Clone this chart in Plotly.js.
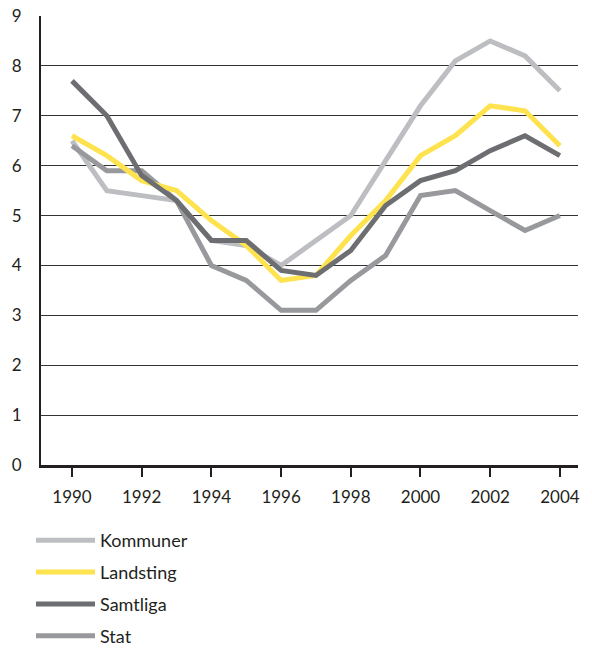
<!DOCTYPE html>
<html>
<head>
<meta charset="utf-8">
<script src="https://cdn.plot.ly/plotly-3.0.1.min.js"></script>
<style>html,body{margin:0;padding:0;background:#fff;}#chart{width:592px;height:648px;}</style>
</head>
<body>
<div id="chart"></div>
<script>
const years = [1990,1991,1992,1993,1994,1995,1996,1997,1998,1999,2000,2001,2002,2003,2004];
const kommuner = [6.5,5.5,5.4,5.3,4.5,4.4,4.0,4.5,5.0,6.1,7.2,8.1,8.5,8.2,7.5];
const landsting = [6.6,6.2,5.7,5.5,4.9,4.4,3.7,3.8,4.6,5.3,6.2,6.6,7.2,7.1,6.4];
const samtliga = [7.7,7.0,5.8,5.3,4.5,4.5,3.9,3.8,4.3,5.2,5.7,5.9,6.3,6.6,6.2];
const stat = [6.4,5.9,5.9,5.3,4.0,3.7,3.1,3.1,3.7,4.2,5.4,5.5,5.1,4.7,5.0];
const xTicks = [1990,1992,1994,1996,1998,2000,2002,2004];
const yTicks = [0,1,2,3,4,5,6,7,8,9];

const series = [
  {name:'Kommuner', y:kommuner, color:'#bdbec1'},
  {name:'Landsting', y:landsting, color:'#fee24e'},
  {name:'Samtliga', y:samtliga, color:'#6d6e71'},
  {name:'Stat', y:stat, color:'#98999c'}
];
const drawOrder = ['Kommuner','Stat','Landsting','Samtliga'];
const traces = drawOrder.map(n => {
  const s = series.find(d => d.name === n);
  return {x: years, y: s.y, name: s.name, type:'scatter', mode:'lines',
    legendgroup: s.name,
    line:{color:s.color, width:5}, legendrank: series.indexOf(s)+1};
});

const tickFont = {family:'Lato, "Open Sans", sans-serif', size:17, color:'#231f20'};
const legFont = {family:'Lato, "Open Sans", sans-serif', size:18, color:'#231f20'};
const layout = {
  width:592, height:648,
  margin:{l:41, r:14, t:16, b:183, autoexpand:false},
  paper_bgcolor:'#fff', plot_bgcolor:'#fff',
  font: tickFont,
  showlegend:true,
  legend:{orientation:'v', x:-0.0186, xanchor:'left', yref:'container', y:0.1945, yanchor:'top',
    font:legFont, tracegroupgap:5.5, itemwidth:59, traceorder:'grouped', borderwidth:0,
    bgcolor:'rgba(0,0,0,0)'},
  xaxis:{range:[1989.11,2004.52], tickvals:xTicks, ticktext:xTicks.map(String),
    showgrid:false, zeroline:false, showline:true, linecolor:'#231f20', linewidth:3,
    ticks:'outside', ticklen:9, tickwidth:2, tickcolor:'#231f20', tickfont:tickFont,
    ticklabelstandoff:6, fixedrange:true},
  yaxis:{range:[0,9], tickvals:yTicks, ticktext:yTicks.map(String),
    showgrid:true, gridcolor:'#333333', gridwidth:1, zeroline:false,
    showline:true, linecolor:'#231f20', linewidth:2, ticks:'', tickfont:tickFont,
    ticklabelstandoff:14, fixedrange:true}
};
Plotly.newPlot('chart', traces, layout, {displayModeBar:false, staticPlot:true});
</script>
</body>
</html>
